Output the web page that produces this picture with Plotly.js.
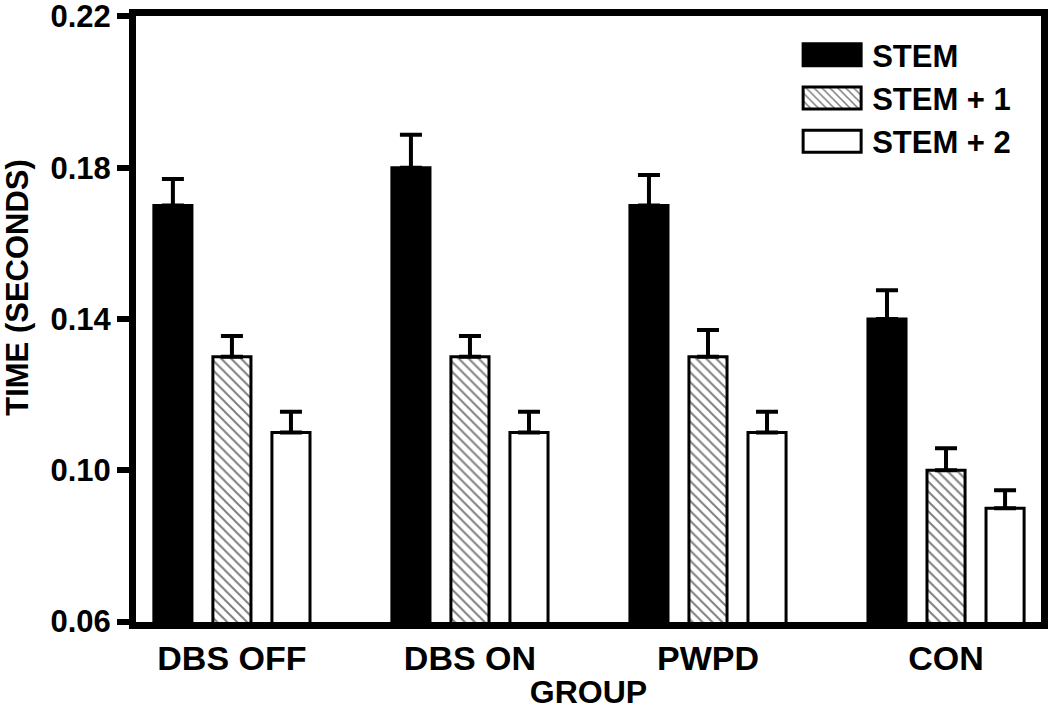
<!DOCTYPE html>
<html>
<head>
<meta charset="utf-8">
<script src="https://cdn.plot.ly/plotly-3.0.1.min.js"></script>
<style>
  html, body { margin: 0; padding: 0; background: #ffffff; }
  #chart { width: 1050px; height: 710px; }
</style>
</head>
<body>
<div id="chart"></div>
<script>
// ---- data ----
const groups = ['DBS OFF', 'DBS ON', 'PWPD', 'CON'];
const seriesNames = ['STEM', 'STEM + 1', 'STEM + 2'];
const stem      = [0.170, 0.180, 0.170, 0.140];
const stemErr   = [0.0070, 0.0087, 0.0081, 0.0076];
const stem1     = [0.130, 0.130, 0.130, 0.100];
const stem1Err  = [0.0055, 0.0055, 0.0071, 0.0058];
const stem2     = [0.110, 0.110, 0.110, 0.090];
const stem2Err  = [0.0055, 0.0055, 0.0055, 0.0047];
const yTickVals = [0.06, 0.10, 0.14, 0.18, 0.22];
const yTickText = ['0.06', '0.10', '0.14', '0.18', '0.22'];

const FONT = 'Liberation Sans, Arial, Helvetica, sans-serif';

function errBar(arr) {
  return { type: 'data', array: arr, symmetric: false, arrayminus: arr.map(() => 0),
           color: '#000', thickness: 4, width: 11 };
}

const traces = [
  { type: 'bar', name: seriesNames[0], x: groups, y: stem,
    marker: { color: '#000', line: { color: '#000', width: 3 } },
    error_y: errBar(stemErr) },
  { type: 'bar', name: seriesNames[1], x: groups, y: stem1,
    marker: { color: '#fff', line: { color: '#000', width: 3 },
              pattern: { shape: '\\', size: 7, solidity: 0.28, fgcolor: '#000', bgcolor: '#fff', fillmode: 'overlay' } },
    error_y: errBar(stem1Err) },
  { type: 'bar', name: seriesNames[2], x: groups, y: stem2,
    marker: { color: '#fff', line: { color: '#000', width: 3 } },
    error_y: errBar(stem2Err) }
];

const layout = {
  width: 1050, height: 710,
  margin: { l: 136, r: 9, t: 16, b: 88 },
  paper_bgcolor: '#fff', plot_bgcolor: '#fff',
  font: { family: FONT, color: '#000', size: 31, weight: 'bold' },
  barmode: 'group',
  bargap: 0.256,
  bargroupgap: 0.355,
  showlegend: true,
  legend: {
    x: 0.725, y: 0.98, xanchor: 'left', yanchor: 'top',
    bgcolor: 'rgba(0,0,0,0)', borderwidth: 0,
    font: { family: FONT, size: 31, weight: 'bold', color: '#000' },
    itemwidth: 70, tracegroupgap: 0, traceorder: 'normal'
  },
  xaxis: {
    type: 'category',
    range: [-0.403, 3.399],
    showline: true, linecolor: '#000', linewidth: 7, mirror: true,
    ticks: '', showgrid: false, zeroline: false,
    tickfont: { family: FONT, size: 34, weight: 'bold', color: '#000' },
    title: { text: 'GROUP', font: { family: FONT, size: 32, weight: 'bold', color: '#000' }, standoff: 4 }
  },
  yaxis: {
    range: [0.0599, 0.2201],
    tickvals: yTickVals,
    ticktext: yTickText,
    ticklabeloverflow: 'allow',
    showline: true, linecolor: '#000', linewidth: 7, mirror: true,
    ticks: 'outside', ticklen: 12, tickwidth: 6, tickcolor: '#000',
    showgrid: false, zeroline: false,
    tickfont: { family: FONT, size: 31, weight: 'bold', color: '#000' }
  },
  annotations: [{
    text: 'TIME (SECONDS)', textangle: -90, showarrow: false,
    xref: 'paper', yref: 'paper', x: -0.1305, y: 0.553, xanchor: 'center', yanchor: 'middle',
    font: { family: FONT, size: 31, weight: 'bold', color: '#000' }
  }]
};

function fixLegend(gd) {
  gd.querySelectorAll('.legend .legendpoints path').forEach(p => {
    p.setAttribute('d', 'M29,11H-29V-11H29Z');
  });
}

const gd = document.getElementById('chart');
Plotly.newPlot(gd, traces, layout, { displayModeBar: false }).then(() => {
  fixLegend(gd);
  gd.on('plotly_afterplot', () => fixLegend(gd));
  setTimeout(() => fixLegend(gd), 50);
});
</script>
</body>
</html>
